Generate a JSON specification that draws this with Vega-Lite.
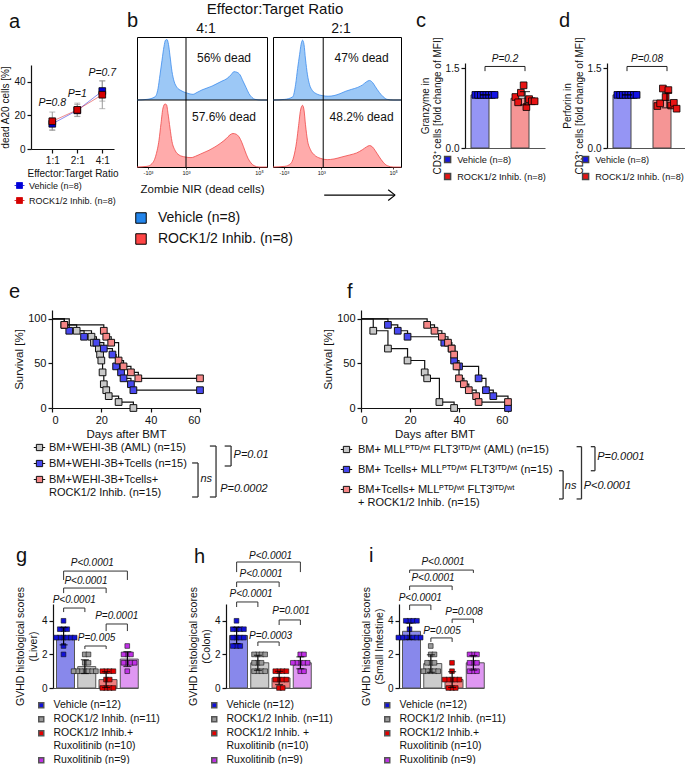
{
  "$schema": "https://vega.github.io/schema/vega-lite/v6.json",
  "background": "white",
  "padding": {"left": 0, "top": 2, "right": 0, "bottom": 0},
  "bounds": "full",
  "spacing": 38,
  "resolve": {"scale": {"color": "independent", "fill": "independent", "stroke": "independent", "xOffset": "independent", "shape": "independent", "size": "independent", "opacity": "independent"}},
  "config": {
    "font": "Liberation Sans",
    "view": {"stroke": null},
    "axis": {"grid": false, "domainColor": "#111", "tickColor": "#111", "labelColor": "#111", "titleColor": "#111", "labelFontSize": 10, "titleFontSize": 10, "titleFontWeight": "normal", "domainWidth": 1.2, "tickWidth": 1.2, "tickSize": 4, "labelPadding": 2, "titlePadding": 4},
    "legend": {"labelColor": "#111", "padding": 0, "labelLimit": 400, "labelFont": "Liberation Sans"},
    "title": {"color": "#111", "fontWeight": "normal", "font": "Liberation Sans"},
    "text": {"color": "#111", "font": "Liberation Sans"}
  },
  "vconcat": [
    {
      "bounds": "full",
      "spacing": 34,
      "resolve": {"scale": {"color": "independent", "fill": "independent", "stroke": "independent", "xOffset": "independent", "shape": "independent", "size": "independent", "opacity": "independent"}},
      "vconcat": [
        {
          "bounds": "flush",
          "spacing": 0,
          "resolve": {"scale": {"color": "independent", "fill": "independent", "stroke": "independent", "xOffset": "independent", "shape": "independent", "size": "independent", "opacity": "independent"}},
          "hconcat": [
            {"width": 27, "height": 10, "data": {"values": []}, "mark": "point", "encoding": {}},
            {
              "width": 83, "height": 112,
              "title": {"text": "a", "anchor": "start", "frame": "group", "fontSize": 20, "dx": -22, "offset": 5},
              "data": {"values": [
                {"ratio": "1:1", "grp": "Vehicle (n=8)", "mean": 15.0, "lo": 11.5, "hi": 18.5},
                {"ratio": "2:1", "grp": "Vehicle (n=8)", "mean": 23.0, "lo": 19.5, "hi": 26.5},
                {"ratio": "4:1", "grp": "Vehicle (n=8)", "mean": 34.5, "lo": 28.5, "hi": 40.5},
                {"ratio": "1:1", "grp": "ROCK1/2 Inhib. (n=8)", "mean": 16.5, "lo": 11.0, "hi": 22.0},
                {"ratio": "2:1", "grp": "ROCK1/2 Inhib. (n=8)", "mean": 23.3, "lo": 19.3, "hi": 27.3},
                {"ratio": "4:1", "grp": "ROCK1/2 Inhib. (n=8)", "mean": 32.3, "lo": 24.0, "hi": 40.6}
              ]},
              "encoding": {"x": {"field": "ratio", "type": "ordinal", "title": "Effector:Target Ratio", "scale": {"type": "point", "domain": ["1:1", "2:1", "4:1"], "padding": 0.66, "align": 0.645}, "axis": {"title": "Effector:Target Ratio", "labelAngle": 0, "titlePadding": 3}}},
              "layer": [
                {"mark": {"type": "rule", "color": "#999", "strokeWidth": 1}, "encoding": {"y": {"field": "lo", "type": "quantitative", "title": "dead A20 cells [%]", "scale": {"domain": [0, 50], "range": [112, 28]}, "axis": {"values": [0, 10, 20, 30, 40, 50], "title": "dead A20 cells [%]", "titlePadding": 3}}, "y2": {"field": "hi"}}},
                {"mark": {"type": "tick", "orient": "horizontal", "size": 6, "thickness": 1, "color": "#999"}, "encoding": {"y": {"field": "lo", "type": "quantitative", "title": "dead A20 cells [%]"}}},
                {"mark": {"type": "tick", "orient": "horizontal", "size": 6, "thickness": 1, "color": "#999"}, "encoding": {"y": {"field": "hi", "type": "quantitative", "title": "dead A20 cells [%]"}}},
                {"mark": {"type": "line", "strokeWidth": 1, "strokeOpacity": 0.45}, "encoding": {"y": {"field": "mean", "type": "quantitative", "title": "dead A20 cells [%]"}, "color": {"field": "grp", "type": "nominal", "scale": {"domain": ["Vehicle (n=8)", "ROCK1/2 Inhib. (n=8)"], "range": ["#0000d8", "#d40000"]}, "legend": {"orient": "none", "legendX": -17, "legendY": 143, "title": null, "symbolType": "M-1,0H-0.6M0.6,0H1M-0.6,-0.6H0.6V0.6H-0.6Z", "symbolSize": 100, "labelFontSize": 9, "labelOffset": 4, "rowPadding": 4, "encode": {"symbols": {"update": {"fill": {"condition": {"test": "datum.value === 'Vehicle (n=8)'", "value": "#0000d8"}, "value": "#d40000"}, "fillOpacity": {"value": 1}, "opacity": {"value": 1}, "stroke": {"value": "#000"}, "strokeOpacity": {"value": 1}, "strokeWidth": {"value": 0.8}}}}}}}},
                {"mark": {"type": "square", "size": 45, "filled": true, "opacity": 1, "stroke": "#000", "strokeWidth": 0.8}, "encoding": {"y": {"field": "mean", "type": "quantitative", "title": "dead A20 cells [%]"}, "color": {"field": "grp", "type": "nominal"}}},
                {"data": {"values": [{"ratio": "1:1", "py": 27.5, "lab": "P=0.8"}, {"ratio": "2:1", "py": 33, "lab": "P=1"}, {"ratio": "4:1", "py": 45, "lab": "P=0.7"}]}, "mark": {"type": "text", "fontStyle": "italic", "fontSize": 10.5}, "encoding": {"y": {"field": "py", "type": "quantitative", "title": "dead A20 cells [%]"}, "text": {"field": "lab"}}}
              ]
            },
            {"width": 23, "height": 10, "data": {"values": []}, "mark": "point", "encoding": {}, "title": {"text": "b", "anchor": "start", "frame": "group", "fontSize": 20, "dx": 13, "offset": 6}},
            {
              "width": 130, "height": 130,
              "view": {"stroke": "#000", "strokeWidth": 1},
              "title": {"text": "4:1", "anchor": "middle", "frame": "group", "fontSize": 14, "offset": 1, "dx": 4},
              "resolve": {"scale": {"y": "independent"}},
              "layer": [
                {
                  "data": {"values": [
                    {"c": 0, "n": 0}, {"c": 10, "n": 1}, {"c": 18, "n": 5}, {"c": 21, "n": 18}, {"c": 23, "n": 40}, {"c": 25, "n": 63}, {"c": 27, "n": 85}, {"c": 28.5, "n": 95}, {"c": 30, "n": 96}, {"c": 31.5, "n": 88}, {"c": 33, "n": 70}, {"c": 35, "n": 45}, {"c": 37, "n": 30}, {"c": 40, "n": 20}, {"c": 44, "n": 15}, {"c": 48, "n": 12}, {"c": 52, "n": 10}, {"c": 56, "n": 9}, {"c": 60, "n": 12}, {"c": 65, "n": 16}, {"c": 70, "n": 19}, {"c": 75, "n": 22}, {"c": 80, "n": 26}, {"c": 85, "n": 30}, {"c": 90, "n": 34}, {"c": 94, "n": 40}, {"c": 97, "n": 45}, {"c": 100, "n": 44}, {"c": 103, "n": 40}, {"c": 106, "n": 30}, {"c": 109, "n": 20}, {"c": 112, "n": 10}, {"c": 115, "n": 4}, {"c": 118, "n": 1}, {"c": 124, "n": 0}, {"c": 130, "n": 0}
                  ]},
                  "encoding": {"y": {"field": "n", "type": "quantitative", "scale": {"domain": [0, 100], "range": [63, 0]}, "axis": null}},
                  "layer": [
                    {"mark": {"type": "area", "interpolate": "monotone", "fillOpacity": 0.45}, "encoding": {"x": {"field": "c", "type": "quantitative", "scale": {"domain": [0, 130], "nice": false}, "axis": {"values": [11, 30, 49, 89, 122], "labelExpr": "datum.value == 11 ? '-10³' : datum.value == 30 ? '0' : datum.value == 49 ? '10³' : datum.value == 89 ? '10⁴' : '10⁵'", "labelFontSize": 5.5, "tickSize": 2, "tickWidth": 0.8, "domain": false, "labelPadding": 1, "title": "Zombie NIR (dead cells)", "titleFontSize": 11.5, "titlePadding": 8}}, "fill": {"datum": "Vehicle (n=8)", "type": "nominal", "scale": {"domain": ["Vehicle (n=8)", "ROCK1/2 Inhib. (n=8)"], "range": ["#2385eb", "#ff4545"]}, "legend": {"orient": "none", "legendX": -3, "legendY": 174, "title": null, "symbolType": "square", "symbolSize": 110, "labelFontSize": 14, "labelOffset": 10, "rowPadding": 5, "encode": {"symbols": {"update": {"fill": {"condition": {"test": "datum.value === 'Vehicle (n=8)'", "value": "#0000ff"}, "value": "#ff5050"}, "fillOpacity": {"value": 1}, "opacity": {"value": 1}, "stroke": {"value": "#000"}, "strokeWidth": {"value": 1}}}}}}}},
                    {"mark": {"type": "line", "interpolate": "monotone", "color": "#3b8ced", "strokeWidth": 0.8}, "encoding": {"x": {"field": "c", "type": "quantitative"}}},
                    {"data": {"values": [{"tx": 87, "ty": 67, "lab": "56% dead"}]}, "mark": {"type": "text", "fontSize": 12}, "encoding": {"x": {"field": "tx", "type": "quantitative"}, "y": {"field": "ty", "type": "quantitative"}, "text": {"field": "lab"}}}
                  ]
                },
                {
                  "data": {"values": [
                    {"c": 0, "n": 0}, {"c": 10, "n": 1}, {"c": 15, "n": 5}, {"c": 19, "n": 18}, {"c": 22, "n": 40}, {"c": 24, "n": 65}, {"c": 26, "n": 88}, {"c": 28, "n": 94}, {"c": 29.5, "n": 93}, {"c": 31, "n": 80}, {"c": 33, "n": 58}, {"c": 35, "n": 38}, {"c": 38, "n": 25}, {"c": 42, "n": 18}, {"c": 48, "n": 15}, {"c": 54, "n": 14}, {"c": 60, "n": 17}, {"c": 66, "n": 21}, {"c": 72, "n": 25}, {"c": 78, "n": 30}, {"c": 84, "n": 36}, {"c": 89, "n": 42}, {"c": 93, "n": 48}, {"c": 96, "n": 50}, {"c": 99, "n": 49}, {"c": 102, "n": 45}, {"c": 105, "n": 36}, {"c": 108, "n": 24}, {"c": 111, "n": 13}, {"c": 114, "n": 6}, {"c": 117, "n": 2}, {"c": 122, "n": 0}, {"c": 130, "n": 0}
                  ]},
                  "encoding": {"y": {"field": "n", "type": "quantitative", "scale": {"domain": [0, 100], "range": [130, 63]}, "axis": null}},
                  "layer": [
                    {"mark": {"type": "area", "interpolate": "monotone", "fillOpacity": 0.45}, "encoding": {"x": {"field": "c", "type": "quantitative"}, "fill": {"datum": "ROCK1/2 Inhib. (n=8)", "type": "nominal"}}},
                    {"mark": {"type": "line", "interpolate": "monotone", "color": "#ef4848", "strokeWidth": 0.8}, "encoding": {"x": {"field": "c", "type": "quantitative"}}},
                    {"data": {"values": [{"tx": 87, "ty": 75, "lab": "57.6% dead"}]}, "mark": {"type": "text", "fontSize": 12}, "encoding": {"x": {"field": "tx", "type": "quantitative"}, "y": {"field": "ty", "type": "quantitative"}, "text": {"field": "lab"}}},
                    {"data": {"values": [{"d": 100}]}, "mark": {"type": "rule", "color": "#000", "strokeWidth": 1}, "encoding": {"y": {"field": "d", "type": "quantitative"}}}
                  ]
                },
                {"data": {"values": [{"gate": 49}]}, "mark": {"type": "rule", "color": "#000", "strokeWidth": 1}, "encoding": {"x": {"field": "gate", "type": "quantitative"}}}
              ]
            },
            {"width": 6, "height": 10, "data": {"values": []}, "mark": "point", "encoding": {}, "title": {"text": "Effector:Target Ratio", "anchor": "middle", "frame": "group", "fontSize": 15, "offset": 20, "dx": 5}},
            {
              "width": 128, "height": 130,
              "view": {"stroke": "#000", "strokeWidth": 1},
              "title": {"text": "2:1", "anchor": "middle", "frame": "group", "fontSize": 14, "offset": 1, "dx": 4},
              "resolve": {"scale": {"y": "independent"}},
              "layer": [
                {
                  "data": {"values": [
                    {"c": 0, "n": 0}, {"c": 12, "n": 1}, {"c": 20, "n": 5}, {"c": 23, "n": 25}, {"c": 25, "n": 50}, {"c": 27, "n": 72}, {"c": 28.5, "n": 88}, {"c": 30, "n": 95}, {"c": 31.5, "n": 88}, {"c": 33, "n": 65}, {"c": 35, "n": 40}, {"c": 37, "n": 25}, {"c": 40, "n": 15}, {"c": 44, "n": 10}, {"c": 50, "n": 7}, {"c": 56, "n": 6}, {"c": 62, "n": 7}, {"c": 68, "n": 10}, {"c": 74, "n": 14}, {"c": 80, "n": 17}, {"c": 86, "n": 20}, {"c": 91, "n": 24}, {"c": 95, "n": 29}, {"c": 98, "n": 31}, {"c": 101, "n": 28}, {"c": 104, "n": 21}, {"c": 108, "n": 12}, {"c": 112, "n": 5}, {"c": 116, "n": 1}, {"c": 122, "n": 0}, {"c": 130, "n": 0}
                  ]},
                  "encoding": {"y": {"field": "n", "type": "quantitative", "scale": {"domain": [0, 100], "range": [63, 0]}, "axis": null}},
                  "layer": [
                    {"mark": {"type": "area", "interpolate": "monotone", "fillOpacity": 0.45}, "encoding": {"x": {"field": "c", "type": "quantitative", "scale": {"domain": [0, 130], "nice": false}, "axis": {"values": [11, 30, 49, 89, 122], "labelExpr": "datum.value == 11 ? '-10³' : datum.value == 30 ? '0' : datum.value == 49 ? '10³' : datum.value == 89 ? '10⁴' : '10⁵'", "labelFontSize": 5.5, "tickSize": 2, "tickWidth": 0.8, "domain": false, "labelPadding": 1, "title": null}}, "fill": {"datum": "Vehicle (n=8)", "type": "nominal", "scale": {"domain": ["Vehicle (n=8)", "ROCK1/2 Inhib. (n=8)"], "range": ["#2385eb", "#ff4545"]}, "legend": null}}},
                    {"mark": {"type": "line", "interpolate": "monotone", "color": "#3b8ced", "strokeWidth": 0.8}, "encoding": {"x": {"field": "c", "type": "quantitative"}}},
                    {"data": {"values": [{"tx": 90, "ty": 67, "lab": "47% dead"}]}, "mark": {"type": "text", "fontSize": 12}, "encoding": {"x": {"field": "tx", "type": "quantitative"}, "y": {"field": "ty", "type": "quantitative"}, "text": {"field": "lab"}}}
                  ]
                },
                {
                  "data": {"values": [
                    {"c": 0, "n": 0}, {"c": 12, "n": 1}, {"c": 18, "n": 5}, {"c": 21, "n": 15}, {"c": 24, "n": 38}, {"c": 26, "n": 62}, {"c": 28, "n": 85}, {"c": 30, "n": 92}, {"c": 31.5, "n": 85}, {"c": 33, "n": 63}, {"c": 35, "n": 40}, {"c": 38, "n": 26}, {"c": 42, "n": 18}, {"c": 48, "n": 13}, {"c": 55, "n": 11}, {"c": 62, "n": 12}, {"c": 70, "n": 15}, {"c": 78, "n": 18}, {"c": 85, "n": 21}, {"c": 91, "n": 26}, {"c": 95, "n": 30}, {"c": 98, "n": 32}, {"c": 101, "n": 30}, {"c": 104, "n": 24}, {"c": 108, "n": 15}, {"c": 112, "n": 7}, {"c": 116, "n": 2}, {"c": 122, "n": 0}, {"c": 130, "n": 0}
                  ]},
                  "encoding": {"y": {"field": "n", "type": "quantitative", "scale": {"domain": [0, 100], "range": [130, 63]}, "axis": null}},
                  "layer": [
                    {"mark": {"type": "area", "interpolate": "monotone", "fillOpacity": 0.45}, "encoding": {"x": {"field": "c", "type": "quantitative"}, "fill": {"datum": "ROCK1/2 Inhib. (n=8)", "type": "nominal"}}},
                    {"mark": {"type": "line", "interpolate": "monotone", "color": "#ef4848", "strokeWidth": 0.8}, "encoding": {"x": {"field": "c", "type": "quantitative"}}},
                    {"data": {"values": [{"tx": 90, "ty": 75, "lab": "48.2% dead"}]}, "mark": {"type": "text", "fontSize": 12}, "encoding": {"x": {"field": "tx", "type": "quantitative"}, "y": {"field": "ty", "type": "quantitative"}, "text": {"field": "lab"}}},
                    {"data": {"values": [{"d": 100}]}, "mark": {"type": "rule", "color": "#000", "strokeWidth": 1}, "encoding": {"y": {"field": "d", "type": "quantitative"}}},
                    {"data": {"values": [{"x1": 52, "x2": 124, "y1": -42, "y2": -42}, {"x1": 117, "x2": 124, "y1": -34, "y2": -42}, {"x1": 117, "x2": 124, "y1": -50, "y2": -42}]}, "mark": {"type": "rule", "color": "#000", "strokeWidth": 1.2}, "encoding": {"x": {"field": "x1", "type": "quantitative"}, "x2": {"field": "x2"}, "y": {"field": "y1", "type": "quantitative"}, "y2": {"field": "y2"}}}
                  ]
                },
                {"data": {"values": [{"gate": 51}]}, "mark": {"type": "rule", "color": "#000", "strokeWidth": 1}, "encoding": {"x": {"field": "gate", "type": "quantitative"}}}
              ]
            },
            {"width": 64, "height": 10, "data": {"values": []}, "mark": "point", "encoding": {}},
            {
              "width": 80, "height": 111,
              "title": {"text": "c", "anchor": "start", "frame": "group", "fontSize": 20, "dx": -49, "offset": 6},
              "data": {"values": [
                {"grp": "Vehicle (n=8)", "id": 1, "v": 1.0}, {"grp": "Vehicle (n=8)", "id": 2, "v": 1.0}, {"grp": "Vehicle (n=8)", "id": 3, "v": 1.0}, {"grp": "Vehicle (n=8)", "id": 4, "v": 1.0},
                {"grp": "Vehicle (n=8)", "id": 5, "v": 1.0}, {"grp": "Vehicle (n=8)", "id": 6, "v": 1.0}, {"grp": "Vehicle (n=8)", "id": 7, "v": 1.0}, {"grp": "Vehicle (n=8)", "id": 8, "v": 1.0},
                {"grp": "ROCK1/2 Inhib. (n=8)", "id": 1, "v": 0.96}, {"grp": "ROCK1/2 Inhib. (n=8)", "id": 2, "v": 0.86}, {"grp": "ROCK1/2 Inhib. (n=8)", "id": 3, "v": 1.04}, {"grp": "ROCK1/2 Inhib. (n=8)", "id": 4, "v": 1.18},
                {"grp": "ROCK1/2 Inhib. (n=8)", "id": 5, "v": 0.77}, {"grp": "ROCK1/2 Inhib. (n=8)", "id": 6, "v": 0.92}, {"grp": "ROCK1/2 Inhib. (n=8)", "id": 7, "v": 0.88}, {"grp": "ROCK1/2 Inhib. (n=8)", "id": 8, "v": 0.88}
              ]},
              "resolve": {"scale": {"x": "independent"}},
              "layer": [
                {
                  "encoding": {"x": {"field": "grp", "type": "nominal", "scale": {"domain": ["Vehicle (n=8)", "ROCK1/2 Inhib. (n=8)"], "paddingInner": 0.3, "paddingOuter": 0.15}, "axis": {"labels": false, "ticks": false, "title": null, "domainColor": "#555"}}},
                  "layer": [
                    {"mark": {"type": "bar", "stroke": "#444", "strokeWidth": 1, "fillOpacity": 0.45}, "encoding": {"y": {"aggregate": "mean", "field": "v", "type": "quantitative", "title": ["Granzyme in", "CD3⁺ cells [fold change of MFI]"], "scale": {"domain": [0, 1.5], "range": [111, 26]}, "axis": {"values": [0, 0.5, 1, 1.5], "format": ".1f", "title": ["Granzyme in", "CD3⁺ cells [fold change of MFI]"], "titlePadding": 3}}, "color": {"field": "grp", "type": "nominal", "scale": {"domain": ["Vehicle (n=8)", "ROCK1/2 Inhib. (n=8)"], "range": ["#1414e6", "#e81414"]}, "legend": {"orient": "none", "legendX": -22, "legendY": 118, "title": null, "symbolType": "square", "symbolSize": 36, "labelFontSize": 9.2, "labelOffset": 5, "rowPadding": 4, "encode": {"symbols": {"update": {"fillOpacity": {"value": 1}, "opacity": {"value": 1}, "stroke": {"value": "#111"}, "strokeWidth": {"value": 0.8}}}}}}}},
                    {"mark": {"type": "square", "size": 45, "filled": true, "opacity": 1, "stroke": "#000", "strokeWidth": 0.8}, "encoding": {"y": {"field": "v", "type": "quantitative", "title": ["Granzyme in", "CD3⁺ cells [fold change of MFI]"]}, "xOffset": {"field": "id", "type": "ordinal", "scale": {"type": "point", "range": [3, 25]}}, "color": {"field": "grp", "type": "nominal"}}},
                    {"mark": {"type": "errorbar", "extent": "stdev", "ticks": true, "size": 10, "color": "#000", "thickness": 1.2}, "encoding": {"y": {"field": "v", "type": "quantitative", "title": ["Granzyme in", "CD3⁺ cells [fold change of MFI]"]}}}
                  ]
                },
                {"data": {"values": [{"x1": 1, "x2": 2, "y1": 1.535, "y2": 1.535}, {"x1": 1, "x2": 1, "y1": 1.535, "y2": 1.447}, {"x1": 2, "x2": 2, "y1": 1.535, "y2": 1.447}]}, "mark": {"type": "rule", "color": "#222", "strokeWidth": 1}, "encoding": {"x": {"field": "x1", "type": "quantitative", "scale": {"domain": [0.5, 2.5], "nice": false, "zero": false}, "axis": null}, "x2": {"field": "x2"}, "y": {"field": "y1", "type": "quantitative"}, "y2": {"field": "y2"}}},
                {"data": {"values": [{"tx": 1.5, "ty": 1.68, "lab": "P=0.2"}]}, "mark": {"type": "text", "fontStyle": "italic", "fontSize": 10}, "encoding": {"x": {"field": "tx", "type": "quantitative", "scale": {"domain": [0.5, 2.5], "nice": false, "zero": false}, "axis": null}, "y": {"field": "ty", "type": "quantitative"}, "text": {"field": "lab"}}}
              ]
            },
            {"width": 62, "height": 10, "data": {"values": []}, "mark": "point", "encoding": {}},
            {
              "width": 80, "height": 111,
              "title": {"text": "d", "anchor": "start", "frame": "group", "fontSize": 20, "dx": -48, "offset": 6},
              "data": {"values": [
                {"grp": "Vehicle (n=8)", "id": 1, "v": 1.0}, {"grp": "Vehicle (n=8)", "id": 2, "v": 1.0}, {"grp": "Vehicle (n=8)", "id": 3, "v": 1.0}, {"grp": "Vehicle (n=8)", "id": 4, "v": 1.0},
                {"grp": "Vehicle (n=8)", "id": 5, "v": 1.0}, {"grp": "Vehicle (n=8)", "id": 6, "v": 1.0}, {"grp": "Vehicle (n=8)", "id": 7, "v": 1.0}, {"grp": "Vehicle (n=8)", "id": 8, "v": 1.0},
                {"grp": "ROCK1/2 Inhib. (n=8)", "id": 1, "v": 0.79}, {"grp": "ROCK1/2 Inhib. (n=8)", "id": 2, "v": 0.84}, {"grp": "ROCK1/2 Inhib. (n=8)", "id": 3, "v": 1.12}, {"grp": "ROCK1/2 Inhib. (n=8)", "id": 4, "v": 0.96},
                {"grp": "ROCK1/2 Inhib. (n=8)", "id": 5, "v": 1.09}, {"grp": "ROCK1/2 Inhib. (n=8)", "id": 6, "v": 0.80}, {"grp": "ROCK1/2 Inhib. (n=8)", "id": 7, "v": 0.85}, {"grp": "ROCK1/2 Inhib. (n=8)", "id": 8, "v": 0.74}
              ]},
              "resolve": {"scale": {"x": "independent"}},
              "layer": [
                {
                  "encoding": {"x": {"field": "grp", "type": "nominal", "scale": {"domain": ["Vehicle (n=8)", "ROCK1/2 Inhib. (n=8)"], "paddingInner": 0.3, "paddingOuter": 0.15}, "axis": {"labels": false, "ticks": false, "title": null, "domainColor": "#555"}}},
                  "layer": [
                    {"mark": {"type": "bar", "stroke": "#444", "strokeWidth": 1, "fillOpacity": 0.45}, "encoding": {"y": {"aggregate": "mean", "field": "v", "type": "quantitative", "title": ["Perforin in", "CD3⁺ cells [fold change of MFI]"], "scale": {"domain": [0, 1.5], "range": [111, 26]}, "axis": {"values": [0, 0.5, 1, 1.5], "format": ".1f", "title": ["Perforin in", "CD3⁺ cells [fold change of MFI]"], "titlePadding": 3}}, "color": {"field": "grp", "type": "nominal", "scale": {"domain": ["Vehicle (n=8)", "ROCK1/2 Inhib. (n=8)"], "range": ["#1414e6", "#e81414"]}, "legend": {"orient": "none", "legendX": -26, "legendY": 118, "title": null, "symbolType": "square", "symbolSize": 36, "labelFontSize": 9.2, "labelOffset": 5, "rowPadding": 4, "encode": {"symbols": {"update": {"fillOpacity": {"value": 1}, "opacity": {"value": 1}, "stroke": {"value": "#111"}, "strokeWidth": {"value": 0.8}}}}}}}},
                    {"mark": {"type": "square", "size": 45, "filled": true, "opacity": 1, "stroke": "#000", "strokeWidth": 0.8}, "encoding": {"y": {"field": "v", "type": "quantitative", "title": ["Perforin in", "CD3⁺ cells [fold change of MFI]"]}, "xOffset": {"field": "id", "type": "ordinal", "scale": {"type": "point", "range": [3, 25]}}, "color": {"field": "grp", "type": "nominal"}}},
                    {"mark": {"type": "errorbar", "extent": "stdev", "ticks": true, "size": 10, "color": "#000", "thickness": 1.2}, "encoding": {"y": {"field": "v", "type": "quantitative", "title": ["Perforin in", "CD3⁺ cells [fold change of MFI]"]}}}
                  ]
                },
                {"data": {"values": [{"x1": 1, "x2": 2, "y1": 1.535, "y2": 1.535}, {"x1": 1, "x2": 1, "y1": 1.535, "y2": 1.447}, {"x1": 2, "x2": 2, "y1": 1.535, "y2": 1.447}]}, "mark": {"type": "rule", "color": "#222", "strokeWidth": 1}, "encoding": {"x": {"field": "x1", "type": "quantitative", "scale": {"domain": [0.5, 2.5], "nice": false, "zero": false}, "axis": null}, "x2": {"field": "x2"}, "y": {"field": "y1", "type": "quantitative"}, "y2": {"field": "y2"}}},
                {"data": {"values": [{"tx": 1.5, "ty": 1.68, "lab": "P=0.08"}]}, "mark": {"type": "text", "fontStyle": "italic", "fontSize": 10}, "encoding": {"x": {"field": "tx", "type": "quantitative", "scale": {"domain": [0.5, 2.5], "nice": false, "zero": false}, "axis": null}, "y": {"field": "ty", "type": "quantitative"}, "text": {"field": "lab"}}}
              ]
            }
          ]
        },
        {
          "bounds": "flush",
          "spacing": 0,
          "resolve": {"scale": {"color": "independent", "fill": "independent", "stroke": "independent", "xOffset": "independent", "shape": "independent", "size": "independent", "opacity": "independent"}},
          "hconcat": [
            {"width": 48, "height": 10, "data": {"values": []}, "mark": "point", "encoding": {}},
            {
              "width": 148, "height": 98,
              "title": {"text": "e", "anchor": "start", "frame": "group", "fontSize": 20, "dx": -43, "offset": 8},
              "data": {"values": [
                {"grp": "BM+WEHI-3B (AML) (n=15)", "day": 0, "surv": 100}, {"grp": "BM+WEHI-3B (AML) (n=15)", "day": 5, "surv": 93.3}, {"grp": "BM+WEHI-3B (AML) (n=15)", "day": 10, "surv": 86.7}, {"grp": "BM+WEHI-3B (AML) (n=15)", "day": 16, "surv": 80}, {"grp": "BM+WEHI-3B (AML) (n=15)", "day": 17, "surv": 73.3}, {"grp": "BM+WEHI-3B (AML) (n=15)", "day": 19, "surv": 66.7}, {"grp": "BM+WEHI-3B (AML) (n=15)", "day": 19.5, "surv": 60}, {"grp": "BM+WEHI-3B (AML) (n=15)", "day": 20, "surv": 53.3}, {"grp": "BM+WEHI-3B (AML) (n=15)", "day": 20.5, "surv": 40}, {"grp": "BM+WEHI-3B (AML) (n=15)", "day": 21, "surv": 26.7}, {"grp": "BM+WEHI-3B (AML) (n=15)", "day": 22, "surv": 20}, {"grp": "BM+WEHI-3B (AML) (n=15)", "day": 23, "surv": 13.3}, {"grp": "BM+WEHI-3B (AML) (n=15)", "day": 27, "surv": 6.7}, {"grp": "BM+WEHI-3B (AML) (n=15)", "day": 33, "surv": 0},
                {"grp": "BM+WEHI-3B+Tcells (n=15)", "day": 0, "surv": 100}, {"grp": "BM+WEHI-3B+Tcells (n=15)", "day": 7, "surv": 86.7}, {"grp": "BM+WEHI-3B+Tcells (n=15)", "day": 13, "surv": 80}, {"grp": "BM+WEHI-3B+Tcells (n=15)", "day": 18, "surv": 73.3}, {"grp": "BM+WEHI-3B+Tcells (n=15)", "day": 21, "surv": 66.7}, {"grp": "BM+WEHI-3B+Tcells (n=15)", "day": 24.5, "surv": 60}, {"grp": "BM+WEHI-3B+Tcells (n=15)", "day": 26, "surv": 46.7}, {"grp": "BM+WEHI-3B+Tcells (n=15)", "day": 28, "surv": 40}, {"grp": "BM+WEHI-3B+Tcells (n=15)", "day": 29, "surv": 33.3}, {"grp": "BM+WEHI-3B+Tcells (n=15)", "day": 32, "surv": 26.7}, {"grp": "BM+WEHI-3B+Tcells (n=15)", "day": 33, "surv": 20}, {"grp": "BM+WEHI-3B+Tcells (n=15)", "day": 60, "surv": 20},
                {"grp": "BM+WEHI-3B+Tcells+\nROCK1/2 Inhib. (n=15)", "day": 0, "surv": 100}, {"grp": "BM+WEHI-3B+Tcells+\nROCK1/2 Inhib. (n=15)", "day": 5, "surv": 93.3}, {"grp": "BM+WEHI-3B+Tcells+\nROCK1/2 Inhib. (n=15)", "day": 21, "surv": 86.7}, {"grp": "BM+WEHI-3B+Tcells+\nROCK1/2 Inhib. (n=15)", "day": 22, "surv": 80}, {"grp": "BM+WEHI-3B+Tcells+\nROCK1/2 Inhib. (n=15)", "day": 24, "surv": 73.3}, {"grp": "BM+WEHI-3B+Tcells+\nROCK1/2 Inhib. (n=15)", "day": 27, "surv": 53.3}, {"grp": "BM+WEHI-3B+Tcells+\nROCK1/2 Inhib. (n=15)", "day": 29, "surv": 46.7}, {"grp": "BM+WEHI-3B+Tcells+\nROCK1/2 Inhib. (n=15)", "day": 32, "surv": 40}, {"grp": "BM+WEHI-3B+Tcells+\nROCK1/2 Inhib. (n=15)", "day": 35, "surv": 33.3}, {"grp": "BM+WEHI-3B+Tcells+\nROCK1/2 Inhib. (n=15)", "day": 60, "surv": 33.3}
              ]},
              "layer": [
                {"mark": {"type": "line", "interpolate": "step-after", "color": "#111", "strokeWidth": 1.2}, "encoding": {"x": {"field": "day", "type": "quantitative", "title": "Days after BMT", "scale": {"domain": [0, 60], "nice": false}, "axis": {"values": [0, 20, 40, 60], "title": "Days after BMT", "labelFontSize": 11, "titleFontSize": 11.5, "titlePadding": 3}}, "y": {"field": "surv", "type": "quantitative", "title": "Survival [%]", "scale": {"domain": [0, 110], "nice": false}, "axis": {"values": [0, 50, 100], "title": "Survival [%]", "labelFontSize": 11, "titleFontSize": 11.5, "titlePadding": 3}}, "detail": {"field": "grp"}}},
                {"transform": [{"filter": "datum.day > 0"}], "mark": {"type": "square", "size": 45, "filled": true, "opacity": 1, "stroke": "#111", "strokeWidth": 1}, "encoding": {"x": {"field": "day", "type": "quantitative", "title": "Days after BMT"}, "y": {"field": "surv", "type": "quantitative", "title": "Survival [%]"}, "color": {"field": "grp", "type": "nominal", "scale": {"domain": ["BM+WEHI-3B (AML) (n=15)", "BM+WEHI-3B+Tcells (n=15)", "BM+WEHI-3B+Tcells+\nROCK1/2 Inhib. (n=15)"], "range": ["#c8c8c8", "#4848ef", "#f58787"]}, "legend": {"orient": "none", "legendX": -19, "legendY": 131, "title": null, "symbolType": "M-1,0H-0.55M0.55,0H1M-0.55,-0.55H0.55V0.55H-0.55Z", "symbolSize": 130, "symbolStrokeColor": "#111", "symbolStrokeWidth": 1, "labelFontSize": 11, "labelOffset": 3, "rowPadding": 4, "labelExpr": "split(datum.label, '\\n')"}}}},
                {"data": {"values": [
                  {"x1": 66.5, "x2": 66.5, "y1": -42.7, "y2": -99.9}, {"x1": 64, "x2": 66.5, "y1": -42.7, "y2": -42.7}, {"x1": 64, "x2": 66.5, "y1": -99.9, "y2": -99.9},
                  {"x1": 72.6, "x2": 72.6, "y1": -42.7, "y2": -65.1}, {"x1": 70, "x2": 72.6, "y1": -42.7, "y2": -42.7}, {"x1": 70, "x2": 72.6, "y1": -65.1, "y2": -65.1},
                  {"x1": 59.2, "x2": 59.2, "y1": -61.7, "y2": -99.9}, {"x1": 56.8, "x2": 59.2, "y1": -61.7, "y2": -61.7}, {"x1": 56.8, "x2": 59.2, "y1": -99.9, "y2": -99.9}
                ]}, "mark": {"type": "rule", "color": "#333", "strokeWidth": 1.3}, "encoding": {"x": {"field": "x1", "type": "quantitative", "title": "Days after BMT"}, "x2": {"field": "x2"}, "y": {"field": "y1", "type": "quantitative", "title": "Survival [%]"}, "y2": {"field": "y2"}}},
                {"data": {"values": [{"tx": 73.6, "ty": -53, "lab": "P=0.01"}, {"tx": 60.2, "ty": -80, "lab": "ns"}, {"tx": 68.2, "ty": -91, "lab": "P=0.0002"}]}, "mark": {"type": "text", "fontStyle": "italic", "fontSize": 11, "align": "left"}, "encoding": {"x": {"field": "tx", "type": "quantitative", "title": "Days after BMT"}, "y": {"field": "ty", "type": "quantitative", "title": "Survival [%]"}, "text": {"field": "lab"}}}
              ]
            },
            {"width": 161, "height": 10, "data": {"values": []}, "mark": "point", "encoding": {}},
            {
              "width": 147, "height": 98,
              "title": {"text": "f", "anchor": "start", "frame": "group", "fontSize": 20, "dx": -14, "offset": 8},
              "data": {"values": [
                {"grp": "BM+ MLLᴾᵀᴰ/ʷᵗ FLT3ᴵᵀᴰ/ʷᵗ (AML)  (n=15)", "day": 0, "surv": 100}, {"grp": "BM+ MLLᴾᵀᴰ/ʷᵗ FLT3ᴵᵀᴰ/ʷᵗ (AML)  (n=15)", "day": 5, "surv": 86.7}, {"grp": "BM+ MLLᴾᵀᴰ/ʷᵗ FLT3ᴵᵀᴰ/ʷᵗ (AML)  (n=15)", "day": 11, "surv": 66.7}, {"grp": "BM+ MLLᴾᵀᴰ/ʷᵗ FLT3ᴵᵀᴰ/ʷᵗ (AML)  (n=15)", "day": 19, "surv": 53.3}, {"grp": "BM+ MLLᴾᵀᴰ/ʷᵗ FLT3ᴵᵀᴰ/ʷᵗ (AML)  (n=15)", "day": 26, "surv": 40}, {"grp": "BM+ MLLᴾᵀᴰ/ʷᵗ FLT3ᴵᵀᴰ/ʷᵗ (AML)  (n=15)", "day": 27, "surv": 33.3}, {"grp": "BM+ MLLᴾᵀᴰ/ʷᵗ FLT3ᴵᵀᴰ/ʷᵗ (AML)  (n=15)", "day": 32, "surv": 6.7}, {"grp": "BM+ MLLᴾᵀᴰ/ʷᵗ FLT3ᴵᵀᴰ/ʷᵗ (AML)  (n=15)", "day": 38, "surv": 0},
                {"grp": "BM+ Tcells+ MLLᴾᵀᴰ/ʷᵗ FLT3ᴵᵀᴰ/ʷᵗ  (n=15)", "day": 0, "surv": 100}, {"grp": "BM+ Tcells+ MLLᴾᵀᴰ/ʷᵗ FLT3ᴵᵀᴰ/ʷᵗ  (n=15)", "day": 11, "surv": 93.3}, {"grp": "BM+ Tcells+ MLLᴾᵀᴰ/ʷᵗ FLT3ᴵᵀᴰ/ʷᵗ  (n=15)", "day": 15, "surv": 86.7}, {"grp": "BM+ Tcells+ MLLᴾᵀᴰ/ʷᵗ FLT3ᴵᵀᴰ/ʷᵗ  (n=15)", "day": 19, "surv": 80}, {"grp": "BM+ Tcells+ MLLᴾᵀᴰ/ʷᵗ FLT3ᴵᵀᴰ/ʷᵗ  (n=15)", "day": 34, "surv": 73.3}, {"grp": "BM+ Tcells+ MLLᴾᵀᴰ/ʷᵗ FLT3ᴵᵀᴰ/ʷᵗ  (n=15)", "day": 37, "surv": 66.7}, {"grp": "BM+ Tcells+ MLLᴾᵀᴰ/ʷᵗ FLT3ᴵᵀᴰ/ʷᵗ  (n=15)", "day": 38, "surv": 53.3}, {"grp": "BM+ Tcells+ MLLᴾᵀᴰ/ʷᵗ FLT3ᴵᵀᴰ/ʷᵗ  (n=15)", "day": 40, "surv": 46.7}, {"grp": "BM+ Tcells+ MLLᴾᵀᴰ/ʷᵗ FLT3ᴵᵀᴰ/ʷᵗ  (n=15)", "day": 48, "surv": 33.3}, {"grp": "BM+ Tcells+ MLLᴾᵀᴰ/ʷᵗ FLT3ᴵᵀᴰ/ʷᵗ  (n=15)", "day": 51, "surv": 20}, {"grp": "BM+ Tcells+ MLLᴾᵀᴰ/ʷᵗ FLT3ᴵᵀᴰ/ʷᵗ  (n=15)", "day": 54, "surv": 13.3}, {"grp": "BM+ Tcells+ MLLᴾᵀᴰ/ʷᵗ FLT3ᴵᵀᴰ/ʷᵗ  (n=15)", "day": 60, "surv": 0},
                {"grp": "BM+Tcells+ MLLᴾᵀᴰ/ʷᵗ FLT3ᴵᵀᴰ/ʷᵗ\n+ ROCK1/2 Inhib. (n=15)", "day": 0, "surv": 100}, {"grp": "BM+Tcells+ MLLᴾᵀᴰ/ʷᵗ FLT3ᴵᵀᴰ/ʷᵗ\n+ ROCK1/2 Inhib. (n=15)", "day": 27, "surv": 93.3}, {"grp": "BM+Tcells+ MLLᴾᵀᴰ/ʷᵗ FLT3ᴵᵀᴰ/ʷᵗ\n+ ROCK1/2 Inhib. (n=15)", "day": 30, "surv": 86.7}, {"grp": "BM+Tcells+ MLLᴾᵀᴰ/ʷᵗ FLT3ᴵᵀᴰ/ʷᵗ\n+ ROCK1/2 Inhib. (n=15)", "day": 33, "surv": 80}, {"grp": "BM+Tcells+ MLLᴾᵀᴰ/ʷᵗ FLT3ᴵᵀᴰ/ʷᵗ\n+ ROCK1/2 Inhib. (n=15)", "day": 35.5, "surv": 73.3}, {"grp": "BM+Tcells+ MLLᴾᵀᴰ/ʷᵗ FLT3ᴵᵀᴰ/ʷᵗ\n+ ROCK1/2 Inhib. (n=15)", "day": 37, "surv": 66.7}, {"grp": "BM+Tcells+ MLLᴾᵀᴰ/ʷᵗ FLT3ᴵᵀᴰ/ʷᵗ\n+ ROCK1/2 Inhib. (n=15)", "day": 38, "surv": 60}, {"grp": "BM+Tcells+ MLLᴾᵀᴰ/ʷᵗ FLT3ᴵᵀᴰ/ʷᵗ\n+ ROCK1/2 Inhib. (n=15)", "day": 39, "surv": 46.7}, {"grp": "BM+Tcells+ MLLᴾᵀᴰ/ʷᵗ FLT3ᴵᵀᴰ/ʷᵗ\n+ ROCK1/2 Inhib. (n=15)", "day": 40, "surv": 33.3}, {"grp": "BM+Tcells+ MLLᴾᵀᴰ/ʷᵗ FLT3ᴵᵀᴰ/ʷᵗ\n+ ROCK1/2 Inhib. (n=15)", "day": 42, "surv": 26.7}, {"grp": "BM+Tcells+ MLLᴾᵀᴰ/ʷᵗ FLT3ᴵᵀᴰ/ʷᵗ\n+ ROCK1/2 Inhib. (n=15)", "day": 44, "surv": 20}, {"grp": "BM+Tcells+ MLLᴾᵀᴰ/ʷᵗ FLT3ᴵᵀᴰ/ʷᵗ\n+ ROCK1/2 Inhib. (n=15)", "day": 47, "surv": 13.3}, {"grp": "BM+Tcells+ MLLᴾᵀᴰ/ʷᵗ FLT3ᴵᵀᴰ/ʷᵗ\n+ ROCK1/2 Inhib. (n=15)", "day": 48, "surv": 6.7}, {"grp": "BM+Tcells+ MLLᴾᵀᴰ/ʷᵗ FLT3ᴵᵀᴰ/ʷᵗ\n+ ROCK1/2 Inhib. (n=15)", "day": 60, "surv": 6.7}
              ]},
              "layer": [
                {"mark": {"type": "line", "interpolate": "step-after", "color": "#111", "strokeWidth": 1.2}, "encoding": {"x": {"field": "day", "type": "quantitative", "title": "Days after BMT", "scale": {"domain": [0, 60], "nice": false}, "axis": {"values": [0, 20, 40, 60], "title": "Days after BMT", "labelFontSize": 11, "titleFontSize": 11.5, "titlePadding": 3}}, "y": {"field": "surv", "type": "quantitative", "title": "Survival [%]", "scale": {"domain": [0, 110], "nice": false}, "axis": {"values": [0, 50, 100], "title": "Survival [%]", "labelFontSize": 11, "titleFontSize": 11.5, "titlePadding": 3}}, "detail": {"field": "grp"}}},
                {"transform": [{"filter": "datum.day > 0"}], "mark": {"type": "square", "size": 45, "filled": true, "opacity": 1, "stroke": "#111", "strokeWidth": 1}, "encoding": {"x": {"field": "day", "type": "quantitative", "title": "Days after BMT"}, "y": {"field": "surv", "type": "quantitative", "title": "Survival [%]"}, "color": {"field": "grp", "type": "nominal", "scale": {"domain": ["BM+ MLLᴾᵀᴰ/ʷᵗ FLT3ᴵᵀᴰ/ʷᵗ (AML)  (n=15)", "BM+ Tcells+ MLLᴾᵀᴰ/ʷᵗ FLT3ᴵᵀᴰ/ʷᵗ  (n=15)", "BM+Tcells+ MLLᴾᵀᴰ/ʷᵗ FLT3ᴵᵀᴰ/ʷᵗ\n+ ROCK1/2 Inhib. (n=15)"], "range": ["#c8c8c8", "#4848ef", "#f58787"]}, "legend": {"orient": "none", "legendX": -21, "legendY": 133, "title": null, "symbolType": "M-1,0H-0.55M0.55,0H1M-0.55,-0.55H0.55V0.55H-0.55Z", "symbolSize": 130, "symbolStrokeColor": "#111", "symbolStrokeWidth": 1, "labelFontSize": 11, "labelOffset": 5, "rowPadding": 8, "labelExpr": "split(datum.label, '\\n')"}}}},
                {"data": {"values": [
                  {"x1": 90, "x2": 90, "y1": -43.4, "y2": -102.1}, {"x1": 88, "x2": 90, "y1": -43.4, "y2": -43.4}, {"x1": 88, "x2": 90, "y1": -102.1, "y2": -102.1},
                  {"x1": 95.5, "x2": 95.5, "y1": -43.4, "y2": -70.4}, {"x1": 93.8, "x2": 95.5, "y1": -43.4, "y2": -43.4}, {"x1": 93.8, "x2": 95.5, "y1": -70.4, "y2": -70.4},
                  {"x1": 82.5, "x2": 82.5, "y1": -70.4, "y2": -102.1}, {"x1": 80.8, "x2": 82.5, "y1": -70.4, "y2": -70.4}, {"x1": 80.8, "x2": 82.5, "y1": -102.1, "y2": -102.1}
                ]}, "mark": {"type": "rule", "color": "#333", "strokeWidth": 1.3}, "encoding": {"x": {"field": "x1", "type": "quantitative", "title": "Days after BMT"}, "x2": {"field": "x2"}, "y": {"field": "y1", "type": "quantitative", "title": "Survival [%]"}, "y2": {"field": "y2"}}},
                {"data": {"values": [{"tx": 96.4, "ty": -54.7, "lab": "P=0.0001"}, {"tx": 90.9, "ty": -87.2, "lab": "P<0.0001"}, {"tx": 83.2, "ty": -87.2, "lab": "ns"}]}, "mark": {"type": "text", "fontStyle": "italic", "fontSize": 11, "align": "left"}, "encoding": {"x": {"field": "tx", "type": "quantitative", "title": "Days after BMT"}, "y": {"field": "ty", "type": "quantitative", "title": "Survival [%]"}, "text": {"field": "lab"}}}
              ]
            }
          ]
        }
      ]
    },
    {
      "bounds": "flush",
      "spacing": 0,
      "resolve": {"scale": {"color": "independent", "fill": "independent", "stroke": "independent", "xOffset": "independent", "shape": "independent", "size": "independent", "opacity": "independent"}},
      "hconcat": [
        {"width": 49, "height": 10, "data": {"values": []}, "mark": "point", "encoding": {}},
        {
          "width": 85, "height": 84,
          "title": {"text": "g", "anchor": "start", "frame": "group", "fontSize": 20, "dx": -37, "offset": -8},
          "data": {"values": [
            {"g": "Vehicle (n=12)", "s": 4}, {"g": "Vehicle (n=12)", "s": 3.5}, {"g": "Vehicle (n=12)", "s": 3.5}, {"g": "Vehicle (n=12)", "s": 3.5}, {"g": "Vehicle (n=12)", "s": 3}, {"g": "Vehicle (n=12)", "s": 3}, {"g": "Vehicle (n=12)", "s": 3}, {"g": "Vehicle (n=12)", "s": 3}, {"g": "Vehicle (n=12)", "s": 3}, {"g": "Vehicle (n=12)", "s": 3}, {"g": "Vehicle (n=12)", "s": 2.5}, {"g": "Vehicle (n=12)", "s": 2},
            {"g": "ROCK1/2 Inhib. (n=11)", "s": 2}, {"g": "ROCK1/2 Inhib. (n=11)", "s": 2}, {"g": "ROCK1/2 Inhib. (n=11)", "s": 1.5}, {"g": "ROCK1/2 Inhib. (n=11)", "s": 1.5}, {"g": "ROCK1/2 Inhib. (n=11)", "s": 1}, {"g": "ROCK1/2 Inhib. (n=11)", "s": 1}, {"g": "ROCK1/2 Inhib. (n=11)", "s": 1}, {"g": "ROCK1/2 Inhib. (n=11)", "s": 1}, {"g": "ROCK1/2 Inhib. (n=11)", "s": 1}, {"g": "ROCK1/2 Inhib. (n=11)", "s": 1}, {"g": "ROCK1/2 Inhib. (n=11)", "s": 1},
            {"g": "ROCK1/2 Inhib.+\nRuxolitinib (n=10)", "s": 1}, {"g": "ROCK1/2 Inhib.+\nRuxolitinib (n=10)", "s": 1}, {"g": "ROCK1/2 Inhib.+\nRuxolitinib (n=10)", "s": 1}, {"g": "ROCK1/2 Inhib.+\nRuxolitinib (n=10)", "s": 1}, {"g": "ROCK1/2 Inhib.+\nRuxolitinib (n=10)", "s": 0.5}, {"g": "ROCK1/2 Inhib.+\nRuxolitinib (n=10)", "s": 0.5}, {"g": "ROCK1/2 Inhib.+\nRuxolitinib (n=10)", "s": 0}, {"g": "ROCK1/2 Inhib.+\nRuxolitinib (n=10)", "s": 0}, {"g": "ROCK1/2 Inhib.+\nRuxolitinib (n=10)", "s": 0}, {"g": "ROCK1/2 Inhib.+\nRuxolitinib (n=10)", "s": 0},
            {"g": "Ruxolitinib (n=9)", "s": 2.5}, {"g": "Ruxolitinib (n=9)", "s": 2}, {"g": "Ruxolitinib (n=9)", "s": 2}, {"g": "Ruxolitinib (n=9)", "s": 2}, {"g": "Ruxolitinib (n=9)", "s": 1.5}, {"g": "Ruxolitinib (n=9)", "s": 1.5}, {"g": "Ruxolitinib (n=9)", "s": 1.5}, {"g": "Ruxolitinib (n=9)", "s": 1.5}, {"g": "Ruxolitinib (n=9)", "s": 1}
          ]},
          "resolve": {"scale": {"x": "independent"}},
          "layer": [
            {
              "encoding": {"x": {"field": "g", "type": "nominal", "scale": {"domain": ["Vehicle (n=12)", "ROCK1/2 Inhib. (n=11)", "ROCK1/2 Inhib.+\nRuxolitinib (n=10)", "Ruxolitinib (n=9)"], "paddingInner": 0.33, "paddingOuter": 0.165}, "axis": {"labels": false, "ticks": false, "title": null, "domainColor": "#555"}}},
              "layer": [
                {"mark": {"type": "bar", "stroke": "#555", "strokeWidth": 1, "fillOpacity": 0.5}, "encoding": {"y": {"aggregate": "mean", "field": "s", "type": "quantitative", "title": ["GVHD histological scores", "(Liver)"], "scale": {"domain": [0, 5]}, "axis": {"values": [0, 1, 2, 3, 4, 5], "title": ["GVHD histological scores", "(Liver)"], "titleFontSize": 10.5, "titlePadding": 3}}, "color": {"field": "g", "type": "nominal", "scale": {"domain": ["Vehicle (n=12)", "ROCK1/2 Inhib. (n=11)", "ROCK1/2 Inhib.+\nRuxolitinib (n=10)", "Ruxolitinib (n=9)"], "range": ["#1212d8", "#999999", "#e40000", "#c030e6"]}, "legend": {"orient": "none", "legendX": -17, "legendY": 96, "title": null, "symbolType": "square", "symbolSize": 25, "labelFontSize": 10.5, "labelOffset": 7, "rowPadding": 2, "labelExpr": "split(datum.label, '\\n')", "encode": {"symbols": {"update": {"fillOpacity": {"value": 1}, "opacity": {"value": 1}, "stroke": {"value": "#111"}, "strokeWidth": {"value": 0.6}}}, "labels": {"update": {"lineHeight": {"value": 11}}}}}}}},
                {"transform": [{"window": [{"op": "row_number", "as": "r"}], "groupby": ["g", "s"]}], "mark": {"type": "square", "size": 22, "filled": true, "opacity": 1, "stroke": "#111", "strokeWidth": 0.6}, "encoding": {"y": {"field": "s", "type": "quantitative", "title": ["GVHD histological scores", "(Liver)"]}, "xOffset": {"field": "r", "type": "ordinal", "scale": {"type": "point", "domain": [7, 5, 3, 1, 2, 4, 6], "range": [-6, 20]}}, "color": {"field": "g", "type": "nominal"}}},
                {"mark": {"type": "errorbar", "extent": "stdev", "ticks": true, "size": 8, "color": "#000", "thickness": 1.2}, "encoding": {"y": {"field": "s", "type": "quantitative", "title": ["GVHD histological scores", "(Liver)"]}}}
              ]
            },
            {"data": {"values": [
              {"x1": 1, "x2": 2, "y1": 4.76, "y2": 4.76}, {"x1": 1, "x2": 1, "y1": 4.76, "y2": 4.52}, {"x1": 2, "x2": 2, "y1": 4.76, "y2": 4.52},
              {"x1": 1, "x2": 3, "y1": 5.95, "y2": 5.95}, {"x1": 1, "x2": 1, "y1": 5.95, "y2": 5.65}, {"x1": 3, "x2": 3, "y1": 5.95, "y2": 5.65},
              {"x1": 1, "x2": 4, "y1": 6.96, "y2": 6.96}, {"x1": 1, "x2": 1, "y1": 6.96, "y2": 6.43}, {"x1": 4, "x2": 4, "y1": 6.96, "y2": 6.43},
              {"x1": 3, "x2": 4, "y1": 3.81, "y2": 3.81}, {"x1": 3, "x2": 3, "y1": 3.81, "y2": 3.39}, {"x1": 4, "x2": 4, "y1": 3.81, "y2": 3.39},
              {"x1": 2, "x2": 3, "y1": 2.5, "y2": 2.5}, {"x1": 2, "x2": 2, "y1": 2.5, "y2": 2.32}, {"x1": 3, "x2": 3, "y1": 2.5, "y2": 2.32}
            ]}, "mark": {"type": "rule", "color": "#333", "strokeWidth": 1}, "encoding": {"x": {"field": "x1", "type": "quantitative", "scale": {"domain": [0.5, 4.5], "nice": false, "zero": false}, "axis": null}, "x2": {"field": "x2"}, "y": {"field": "y1", "type": "quantitative", "title": ["GVHD histological scores", "(Liver)"]}, "y2": {"field": "y2"}}},
            {"data": {"values": [
              {"tx": 1.5, "ty": 5.24, "lab": "P<0.0001"}, {"tx": 2.05, "ty": 6.37, "lab": "P<0.0001"}, {"tx": 2.35, "ty": 7.44, "lab": "P<0.0001"}, {"tx": 3.5, "ty": 4.29, "lab": "P=0.0001"}, {"tx": 2.55, "ty": 2.98, "lab": "P=0.005"}
            ]}, "mark": {"type": "text", "fontStyle": "italic", "fontSize": 10}, "encoding": {"x": {"field": "tx", "type": "quantitative", "scale": {"domain": [0.5, 4.5], "nice": false, "zero": false}, "axis": null}, "y": {"field": "ty", "type": "quantitative", "title": ["GVHD histological scores", "(Liver)"]}, "text": {"field": "lab"}}}
          ]
        },
        {"width": 88, "height": 10, "data": {"values": []}, "mark": "point", "encoding": {}},
        {
          "width": 85, "height": 84,
          "title": {"text": "h", "anchor": "start", "frame": "group", "fontSize": 20, "dx": -32, "offset": -16},
          "data": {"values": [
            {"g": "Vehicle (n=12)", "s": 4}, {"g": "Vehicle (n=12)", "s": 3.5}, {"g": "Vehicle (n=12)", "s": 3.5}, {"g": "Vehicle (n=12)", "s": 3.5}, {"g": "Vehicle (n=12)", "s": 3.5}, {"g": "Vehicle (n=12)", "s": 3}, {"g": "Vehicle (n=12)", "s": 3}, {"g": "Vehicle (n=12)", "s": 3}, {"g": "Vehicle (n=12)", "s": 3}, {"g": "Vehicle (n=12)", "s": 2.5}, {"g": "Vehicle (n=12)", "s": 2.5}, {"g": "Vehicle (n=12)", "s": 2.5},
            {"g": "ROCK1/2 Inhib. (n=11)", "s": 2}, {"g": "ROCK1/2 Inhib. (n=11)", "s": 2}, {"g": "ROCK1/2 Inhib. (n=11)", "s": 2}, {"g": "ROCK1/2 Inhib. (n=11)", "s": 2}, {"g": "ROCK1/2 Inhib. (n=11)", "s": 1.5}, {"g": "ROCK1/2 Inhib. (n=11)", "s": 1.5}, {"g": "ROCK1/2 Inhib. (n=11)", "s": 1.5}, {"g": "ROCK1/2 Inhib. (n=11)", "s": 1}, {"g": "ROCK1/2 Inhib. (n=11)", "s": 1}, {"g": "ROCK1/2 Inhib. (n=11)", "s": 1}, {"g": "ROCK1/2 Inhib. (n=11)", "s": 1},
            {"g": "ROCK1/2 Inhib. +\nRuxolitinib (n=10)", "s": 1}, {"g": "ROCK1/2 Inhib. +\nRuxolitinib (n=10)", "s": 1}, {"g": "ROCK1/2 Inhib. +\nRuxolitinib (n=10)", "s": 1}, {"g": "ROCK1/2 Inhib. +\nRuxolitinib (n=10)", "s": 1}, {"g": "ROCK1/2 Inhib. +\nRuxolitinib (n=10)", "s": 0.5}, {"g": "ROCK1/2 Inhib. +\nRuxolitinib (n=10)", "s": 0.5}, {"g": "ROCK1/2 Inhib. +\nRuxolitinib (n=10)", "s": 0.5}, {"g": "ROCK1/2 Inhib. +\nRuxolitinib (n=10)", "s": 0.5}, {"g": "ROCK1/2 Inhib. +\nRuxolitinib (n=10)", "s": 0}, {"g": "ROCK1/2 Inhib. +\nRuxolitinib (n=10)", "s": 0},
            {"g": "Ruxolitinib (n=9)", "s": 2}, {"g": "Ruxolitinib (n=9)", "s": 2}, {"g": "Ruxolitinib (n=9)", "s": 1.5}, {"g": "Ruxolitinib (n=9)", "s": 1.5}, {"g": "Ruxolitinib (n=9)", "s": 1.5}, {"g": "Ruxolitinib (n=9)", "s": 1.5}, {"g": "Ruxolitinib (n=9)", "s": 1.5}, {"g": "Ruxolitinib (n=9)", "s": 1}, {"g": "Ruxolitinib (n=9)", "s": 1}
          ]},
          "resolve": {"scale": {"x": "independent"}},
          "layer": [
            {
              "encoding": {"x": {"field": "g", "type": "nominal", "scale": {"domain": ["Vehicle (n=12)", "ROCK1/2 Inhib. (n=11)", "ROCK1/2 Inhib. +\nRuxolitinib (n=10)", "Ruxolitinib (n=9)"], "paddingInner": 0.33, "paddingOuter": 0.165}, "axis": {"labels": false, "ticks": false, "title": null, "domainColor": "#555"}}},
              "layer": [
                {"mark": {"type": "bar", "stroke": "#555", "strokeWidth": 1, "fillOpacity": 0.5}, "encoding": {"y": {"aggregate": "mean", "field": "s", "type": "quantitative", "title": ["GVHD histological scores", "(Colon)"], "scale": {"domain": [0, 5]}, "axis": {"values": [0, 1, 2, 3, 4, 5], "title": ["GVHD histological scores", "(Colon)"], "titleFontSize": 10.5, "titlePadding": 3}}, "color": {"field": "g", "type": "nominal", "scale": {"domain": ["Vehicle (n=12)", "ROCK1/2 Inhib. (n=11)", "ROCK1/2 Inhib. +\nRuxolitinib (n=10)", "Ruxolitinib (n=9)"], "range": ["#1212d8", "#999999", "#e40000", "#c030e6"]}, "legend": {"orient": "none", "legendX": -17, "legendY": 96, "title": null, "symbolType": "square", "symbolSize": 25, "labelFontSize": 10.5, "labelOffset": 7, "rowPadding": 2, "labelExpr": "split(datum.label, '\\n')", "encode": {"symbols": {"update": {"fillOpacity": {"value": 1}, "opacity": {"value": 1}, "stroke": {"value": "#111"}, "strokeWidth": {"value": 0.6}}}, "labels": {"update": {"lineHeight": {"value": 11}}}}}}}},
                {"transform": [{"window": [{"op": "row_number", "as": "r"}], "groupby": ["g", "s"]}], "mark": {"type": "square", "size": 22, "filled": true, "opacity": 1, "stroke": "#111", "strokeWidth": 0.6}, "encoding": {"y": {"field": "s", "type": "quantitative", "title": ["GVHD histological scores", "(Colon)"]}, "xOffset": {"field": "r", "type": "ordinal", "scale": {"type": "point", "domain": [7, 5, 3, 1, 2, 4, 6], "range": [-6, 20]}}, "color": {"field": "g", "type": "nominal"}}},
                {"mark": {"type": "errorbar", "extent": "stdev", "ticks": true, "size": 8, "color": "#000", "thickness": 1.2}, "encoding": {"y": {"field": "s", "type": "quantitative", "title": ["GVHD histological scores", "(Colon)"]}}}
              ]
            },
            {"data": {"values": [
              {"x1": 1, "x2": 4, "y1": 7.5, "y2": 7.5}, {"x1": 1, "x2": 1, "y1": 7.5, "y2": 6.9}, {"x1": 4, "x2": 4, "y1": 7.5, "y2": 6.9},
              {"x1": 1, "x2": 3, "y1": 6.31, "y2": 6.31}, {"x1": 1, "x2": 1, "y1": 6.31, "y2": 6.01}, {"x1": 3, "x2": 3, "y1": 6.31, "y2": 6.01},
              {"x1": 1, "x2": 2, "y1": 5.12, "y2": 5.12}, {"x1": 1, "x2": 1, "y1": 5.12, "y2": 4.82}, {"x1": 2, "x2": 2, "y1": 5.12, "y2": 4.82},
              {"x1": 2, "x2": 3, "y1": 2.74, "y2": 2.74}, {"x1": 2, "x2": 2, "y1": 2.74, "y2": 2.5}, {"x1": 3, "x2": 3, "y1": 2.74, "y2": 2.5},
              {"x1": 3, "x2": 4, "y1": 4.05, "y2": 4.05}, {"x1": 3, "x2": 3, "y1": 4.05, "y2": 3.75}, {"x1": 4, "x2": 4, "y1": 4.05, "y2": 3.75}
            ]}, "mark": {"type": "rule", "color": "#333", "strokeWidth": 1}, "encoding": {"x": {"field": "x1", "type": "quantitative", "scale": {"domain": [0.5, 4.5], "nice": false, "zero": false}, "axis": null}, "x2": {"field": "x2"}, "y": {"field": "y1", "type": "quantitative", "title": ["GVHD histological scores", "(Colon)"]}, "y2": {"field": "y2"}}},
            {"data": {"values": [
              {"tx": 2.6, "ty": 7.86, "lab": "P<0.0001"}, {"tx": 2.15, "ty": 6.79, "lab": "P<0.0001"}, {"tx": 1.68, "ty": 5.6, "lab": "P<0.0001"}, {"tx": 2.6, "ty": 3.1, "lab": "P=0.0003"}, {"tx": 3.56, "ty": 4.58, "lab": "P=0.001"}
            ]}, "mark": {"type": "text", "fontStyle": "italic", "fontSize": 10}, "encoding": {"x": {"field": "tx", "type": "quantitative", "scale": {"domain": [0.5, 4.5], "nice": false, "zero": false}, "axis": null}, "y": {"field": "ty", "type": "quantitative", "title": ["GVHD histological scores", "(Colon)"]}, "text": {"field": "lab"}}}
          ]
        },
        {"width": 88, "height": 10, "data": {"values": []}, "mark": "point", "encoding": {}},
        {
          "width": 85, "height": 84,
          "title": {"text": "i", "anchor": "start", "frame": "group", "fontSize": 20, "dx": -30, "offset": -9},
          "data": {"values": [
            {"g": "Vehicle (n=12)", "s": 4}, {"g": "Vehicle (n=12)", "s": 4}, {"g": "Vehicle (n=12)", "s": 4}, {"g": "Vehicle (n=12)", "s": 4}, {"g": "Vehicle (n=12)", "s": 3.5}, {"g": "Vehicle (n=12)", "s": 3}, {"g": "Vehicle (n=12)", "s": 3}, {"g": "Vehicle (n=12)", "s": 3}, {"g": "Vehicle (n=12)", "s": 3}, {"g": "Vehicle (n=12)", "s": 3}, {"g": "Vehicle (n=12)", "s": 3}, {"g": "Vehicle (n=12)", "s": 3},
            {"g": "ROCK1/2 Inhib. (n=11)", "s": 2.5}, {"g": "ROCK1/2 Inhib. (n=11)", "s": 2}, {"g": "ROCK1/2 Inhib. (n=11)", "s": 2}, {"g": "ROCK1/2 Inhib. (n=11)", "s": 1.5}, {"g": "ROCK1/2 Inhib. (n=11)", "s": 1.5}, {"g": "ROCK1/2 Inhib. (n=11)", "s": 1.5}, {"g": "ROCK1/2 Inhib. (n=11)", "s": 1}, {"g": "ROCK1/2 Inhib. (n=11)", "s": 1}, {"g": "ROCK1/2 Inhib. (n=11)", "s": 1}, {"g": "ROCK1/2 Inhib. (n=11)", "s": 1}, {"g": "ROCK1/2 Inhib. (n=11)", "s": 1},
            {"g": "ROCK1/2 Inhib.+\nRuxolitinib (n=10)", "s": 1.5}, {"g": "ROCK1/2 Inhib.+\nRuxolitinib (n=10)", "s": 1}, {"g": "ROCK1/2 Inhib.+\nRuxolitinib (n=10)", "s": 0.5}, {"g": "ROCK1/2 Inhib.+\nRuxolitinib (n=10)", "s": 0.5}, {"g": "ROCK1/2 Inhib.+\nRuxolitinib (n=10)", "s": 0.5}, {"g": "ROCK1/2 Inhib.+\nRuxolitinib (n=10)", "s": 0.5}, {"g": "ROCK1/2 Inhib.+\nRuxolitinib (n=10)", "s": 0.5}, {"g": "ROCK1/2 Inhib.+\nRuxolitinib (n=10)", "s": 0}, {"g": "ROCK1/2 Inhib.+\nRuxolitinib (n=10)", "s": 0}, {"g": "ROCK1/2 Inhib.+\nRuxolitinib (n=10)", "s": 0},
            {"g": "Ruxolitinib (n=9)", "s": 2}, {"g": "Ruxolitinib (n=9)", "s": 2}, {"g": "Ruxolitinib (n=9)", "s": 2}, {"g": "Ruxolitinib (n=9)", "s": 1.5}, {"g": "Ruxolitinib (n=9)", "s": 1.5}, {"g": "Ruxolitinib (n=9)", "s": 1.5}, {"g": "Ruxolitinib (n=9)", "s": 1}, {"g": "Ruxolitinib (n=9)", "s": 1}, {"g": "Ruxolitinib (n=9)", "s": 1}
          ]},
          "resolve": {"scale": {"x": "independent"}},
          "layer": [
            {
              "encoding": {"x": {"field": "g", "type": "nominal", "scale": {"domain": ["Vehicle (n=12)", "ROCK1/2 Inhib. (n=11)", "ROCK1/2 Inhib.+\nRuxolitinib (n=10)", "Ruxolitinib (n=9)"], "paddingInner": 0.33, "paddingOuter": 0.165}, "axis": {"labels": false, "ticks": false, "title": null, "domainColor": "#555"}}},
              "layer": [
                {"mark": {"type": "bar", "stroke": "#555", "strokeWidth": 1, "fillOpacity": 0.5}, "encoding": {"y": {"aggregate": "mean", "field": "s", "type": "quantitative", "title": ["GVHD histological scores", "(Small Intestine)"], "scale": {"domain": [0, 5]}, "axis": {"values": [0, 1, 2, 3, 4, 5], "title": ["GVHD histological scores", "(Small Intestine)"], "titleFontSize": 10.5, "titlePadding": 3}}, "color": {"field": "g", "type": "nominal", "scale": {"domain": ["Vehicle (n=12)", "ROCK1/2 Inhib. (n=11)", "ROCK1/2 Inhib.+\nRuxolitinib (n=10)", "Ruxolitinib (n=9)"], "range": ["#1212d8", "#999999", "#e40000", "#c030e6"]}, "legend": {"orient": "none", "legendX": -17, "legendY": 96, "title": null, "symbolType": "square", "symbolSize": 25, "labelFontSize": 10.5, "labelOffset": 7, "rowPadding": 2, "labelExpr": "split(datum.label, '\\n')", "encode": {"symbols": {"update": {"fillOpacity": {"value": 1}, "opacity": {"value": 1}, "stroke": {"value": "#111"}, "strokeWidth": {"value": 0.6}}}, "labels": {"update": {"lineHeight": {"value": 11}}}}}}}},
                {"transform": [{"window": [{"op": "row_number", "as": "r"}], "groupby": ["g", "s"]}], "mark": {"type": "square", "size": 22, "filled": true, "opacity": 1, "stroke": "#111", "strokeWidth": 0.6}, "encoding": {"y": {"field": "s", "type": "quantitative", "title": ["GVHD histological scores", "(Small Intestine)"]}, "xOffset": {"field": "r", "type": "ordinal", "scale": {"type": "point", "domain": [7, 5, 3, 1, 2, 4, 6], "range": [-6, 20]}}, "color": {"field": "g", "type": "nominal"}}},
                {"mark": {"type": "errorbar", "extent": "stdev", "ticks": true, "size": 8, "color": "#000", "thickness": 1.2}, "encoding": {"y": {"field": "s", "type": "quantitative", "title": ["GVHD histological scores", "(Small Intestine)"]}}}
              ]
            },
            {"data": {"values": [
              {"x1": 1, "x2": 4, "y1": 7.02, "y2": 7.02}, {"x1": 1, "x2": 1, "y1": 7.02, "y2": 6.85}, {"x1": 4, "x2": 4, "y1": 7.02, "y2": 6.85},
              {"x1": 1, "x2": 3, "y1": 6.07, "y2": 6.07}, {"x1": 1, "x2": 1, "y1": 6.07, "y2": 5.83}, {"x1": 3, "x2": 3, "y1": 6.07, "y2": 5.83},
              {"x1": 1, "x2": 2, "y1": 4.94, "y2": 4.94}, {"x1": 1, "x2": 1, "y1": 4.94, "y2": 4.64}, {"x1": 2, "x2": 2, "y1": 4.94, "y2": 4.64},
              {"x1": 3, "x2": 4, "y1": 4.1, "y2": 4.1}, {"x1": 3, "x2": 3, "y1": 4.1, "y2": 3.87}, {"x1": 4, "x2": 4, "y1": 4.1, "y2": 3.87},
              {"x1": 2, "x2": 3, "y1": 2.98, "y2": 2.98}, {"x1": 2, "x2": 2, "y1": 2.98, "y2": 2.74}, {"x1": 3, "x2": 3, "y1": 2.98, "y2": 2.74}
            ]}, "mark": {"type": "rule", "color": "#333", "strokeWidth": 1}, "encoding": {"x": {"field": "x1", "type": "quantitative", "scale": {"domain": [0.5, 4.5], "nice": false, "zero": false}, "axis": null}, "x2": {"field": "x2"}, "y": {"field": "y1", "type": "quantitative", "title": ["GVHD histological scores", "(Small Intestine)"]}, "y2": {"field": "y2"}}},
            {"data": {"values": [
              {"tx": 2.57, "ty": 7.5, "lab": "P<0.0001"}, {"tx": 2.1, "ty": 6.55, "lab": "P<0.0001"}, {"tx": 1.5, "ty": 5.36, "lab": "P<0.0001"}, {"tx": 3.56, "ty": 4.52, "lab": "P=0.008"}, {"tx": 2.52, "ty": 3.39, "lab": "P=0.005"}
            ]}, "mark": {"type": "text", "fontStyle": "italic", "fontSize": 10}, "encoding": {"x": {"field": "tx", "type": "quantitative", "scale": {"domain": [0.5, 4.5], "nice": false, "zero": false}, "axis": null}, "y": {"field": "ty", "type": "quantitative", "title": ["GVHD histological scores", "(Small Intestine)"]}, "text": {"field": "lab"}}}
          ]
        }
      ]
    }
  ]
}
